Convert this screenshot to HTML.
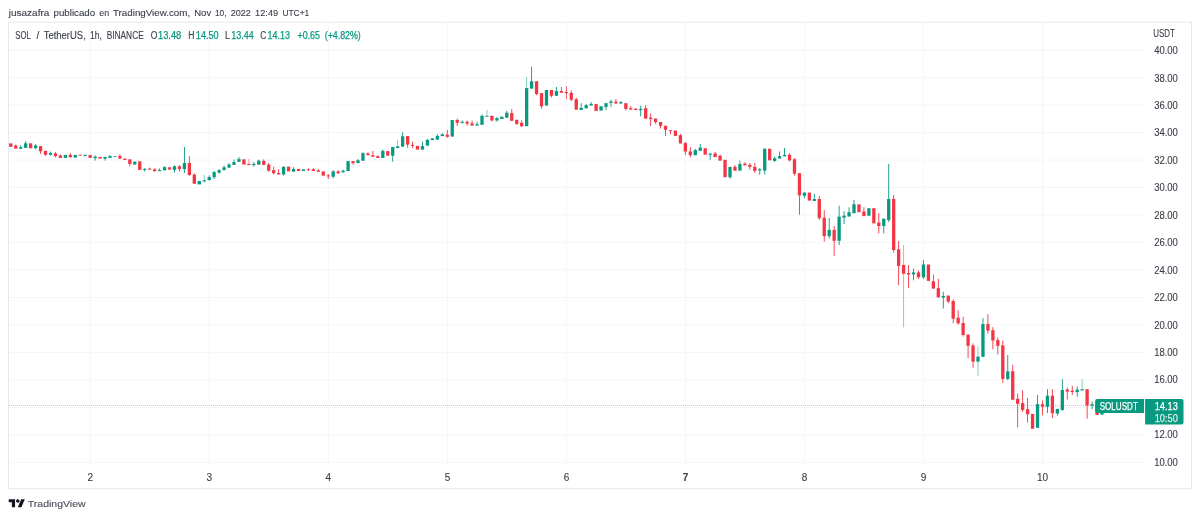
<!DOCTYPE html><html><head><meta charset="utf-8"><title>SOLUSDT</title>
<style>html,body{margin:0;padding:0;background:#fff;}svg{display:block;will-change:transform;font-family:"Liberation Sans",sans-serif;}</style></head><body>
<svg width="1200" height="518" viewBox="0 0 1200 518">
<rect x="8.5" y="461.89" width="1136.5" height="1" fill="#f4f6fb"/>
<rect x="8.5" y="434.4" width="1136.5" height="1" fill="#f4f6fb"/>
<rect x="8.5" y="406.92" width="1136.5" height="1" fill="#f4f6fb"/>
<rect x="8.5" y="379.43" width="1136.5" height="1" fill="#f4f6fb"/>
<rect x="8.5" y="351.95" width="1136.5" height="1" fill="#f4f6fb"/>
<rect x="8.5" y="324.46" width="1136.5" height="1" fill="#f4f6fb"/>
<rect x="8.5" y="296.97" width="1136.5" height="1" fill="#f4f6fb"/>
<rect x="8.5" y="269.49" width="1136.5" height="1" fill="#f4f6fb"/>
<rect x="8.5" y="242" width="1136.5" height="1" fill="#f4f6fb"/>
<rect x="8.5" y="214.52" width="1136.5" height="1" fill="#f4f6fb"/>
<rect x="8.5" y="187.03" width="1136.5" height="1" fill="#f4f6fb"/>
<rect x="8.5" y="159.54" width="1136.5" height="1" fill="#f4f6fb"/>
<rect x="8.5" y="132.06" width="1136.5" height="1" fill="#f4f6fb"/>
<rect x="8.5" y="104.57" width="1136.5" height="1" fill="#f4f6fb"/>
<rect x="8.5" y="77.09" width="1136.5" height="1" fill="#f4f6fb"/>
<rect x="8.5" y="49.6" width="1136.5" height="1" fill="#f4f6fb"/>
<rect x="89.8" y="22.5" width="1" height="442" fill="#f4f6fb"/>
<rect x="208.84" y="22.5" width="1" height="442" fill="#f4f6fb"/>
<rect x="327.88" y="22.5" width="1" height="442" fill="#f4f6fb"/>
<rect x="446.92" y="22.5" width="1" height="442" fill="#f4f6fb"/>
<rect x="565.96" y="22.5" width="1" height="442" fill="#f4f6fb"/>
<rect x="685" y="22.5" width="1" height="442" fill="#f4f6fb"/>
<rect x="804.04" y="22.5" width="1" height="442" fill="#f4f6fb"/>
<rect x="923.08" y="22.5" width="1" height="442" fill="#f4f6fb"/>
<rect x="1042.12" y="22.5" width="1" height="442" fill="#f4f6fb"/>
<rect x="8.5" y="22.2" width="1183" height="466.6" fill="none" stroke="#e4e7ee" stroke-width="1"/>
<line x1="9" y1="405.7" x2="1145" y2="405.7" stroke="#089981" stroke-width="1.1" stroke-dasharray="1 1" opacity="0.36" shape-rendering="crispEdges"/>
<rect x="9.15" y="143.4" width="3.3" height="3.5" fill="#f23645"/>
<rect x="15.31" y="144.4" width="0.9" height="4.2" fill="#f23645"/>
<rect x="14.11" y="145.6" width="3.3" height="3" fill="#f23645"/>
<rect x="20.27" y="145.1" width="0.9" height="3.7" fill="#089981"/>
<rect x="19.07" y="147.3" width="3.3" height="1.5" fill="#089981"/>
<rect x="25.23" y="141.1" width="0.9" height="6.8" fill="#089981"/>
<rect x="24.03" y="143.3" width="3.3" height="4.6" fill="#089981"/>
<rect x="28.99" y="143.3" width="3.3" height="5" fill="#f23645"/>
<rect x="35.15" y="144.1" width="0.9" height="5.3" fill="#089981"/>
<rect x="33.95" y="145.4" width="3.3" height="2.7" fill="#089981"/>
<rect x="40.11" y="146.1" width="0.9" height="7.8" fill="#f23645"/>
<rect x="38.91" y="146.1" width="3.3" height="5.2" fill="#f23645"/>
<rect x="45.07" y="150.8" width="0.9" height="5.1" fill="#f23645"/>
<rect x="43.87" y="150.8" width="3.3" height="4" fill="#f23645"/>
<rect x="50.03" y="151.6" width="0.9" height="3.8" fill="#089981"/>
<rect x="48.83" y="153.1" width="3.3" height="1.7" fill="#089981"/>
<rect x="54.99" y="152.1" width="0.9" height="5.2" fill="#f23645"/>
<rect x="53.79" y="153.4" width="3.3" height="2.7" fill="#f23645"/>
<rect x="59.95" y="154.6" width="0.9" height="3.3" fill="#f23645"/>
<rect x="58.75" y="155.4" width="3.3" height="2.5" fill="#f23645"/>
<rect x="63.71" y="154.9" width="3.3" height="3" fill="#089981"/>
<rect x="69.87" y="153.1" width="0.9" height="4.2" fill="#f23645"/>
<rect x="68.67" y="154.9" width="3.3" height="2.4" fill="#f23645"/>
<rect x="73.63" y="154.9" width="3.3" height="2.7" fill="#089981"/>
<rect x="78.59" y="154.6" width="3.3" height="1" fill="#f23645"/>
<rect x="83.55" y="154.8" width="3.3" height="1.3" fill="#089981"/>
<rect x="88.51" y="154.9" width="3.3" height="3" fill="#f23645"/>
<rect x="94.67" y="155.4" width="0.9" height="5.2" fill="#089981"/>
<rect x="93.47" y="156.6" width="3.3" height="1.5" fill="#089981"/>
<rect x="98.43" y="156.9" width="3.3" height="1.7" fill="#f23645"/>
<rect x="104.59" y="156.9" width="0.9" height="3.7" fill="#089981"/>
<rect x="103.39" y="156.9" width="3.3" height="1.7" fill="#089981"/>
<rect x="109.55" y="155.1" width="0.9" height="2.8" fill="#089981"/>
<rect x="108.35" y="156.1" width="3.3" height="1.8" fill="#089981"/>
<rect x="113.31" y="156.1" width="3.3" height="0.8" fill="#089981"/>
<rect x="119.47" y="154.3" width="0.9" height="4.3" fill="#f23645"/>
<rect x="118.27" y="155.9" width="3.3" height="2.7" fill="#f23645"/>
<rect x="123.23" y="158.6" width="3.3" height="1.4" fill="#f23645"/>
<rect x="129.39" y="159.4" width="0.9" height="7" fill="#f23645"/>
<rect x="128.19" y="159.4" width="3.3" height="4.5" fill="#f23645"/>
<rect x="133.15" y="161.6" width="3.3" height="3" fill="#089981"/>
<rect x="138.11" y="161.3" width="3.3" height="8.6" fill="#f23645"/>
<rect x="144.27" y="168.1" width="0.9" height="3.5" fill="#089981"/>
<rect x="143.07" y="168.9" width="3.3" height="1" fill="#089981"/>
<rect x="149.23" y="167.6" width="0.9" height="2" fill="#f23645"/>
<rect x="148.03" y="168.6" width="3.3" height="1" fill="#f23645"/>
<rect x="154.19" y="168.4" width="0.9" height="3.2" fill="#f23645"/>
<rect x="152.99" y="169.3" width="3.3" height="1.8" fill="#f23645"/>
<rect x="159.15" y="168.4" width="0.9" height="2.7" fill="#089981"/>
<rect x="157.95" y="170.1" width="3.3" height="1" fill="#089981"/>
<rect x="164.11" y="166.3" width="0.9" height="4" fill="#089981"/>
<rect x="162.91" y="167.1" width="3.3" height="3.2" fill="#089981"/>
<rect x="167.87" y="167.3" width="3.3" height="2.3" fill="#f23645"/>
<rect x="174.03" y="165.3" width="0.9" height="7.3" fill="#089981"/>
<rect x="172.83" y="166.3" width="3.3" height="3.6" fill="#089981"/>
<rect x="178.99" y="165.1" width="0.9" height="6.5" fill="#f23645"/>
<rect x="177.79" y="166.3" width="3.3" height="2.8" fill="#f23645"/>
<rect x="183.95" y="147" width="0.9" height="26.1" fill="#089981"/>
<rect x="182.75" y="163.1" width="3.3" height="6" fill="#089981"/>
<rect x="188.91" y="156.1" width="0.9" height="19.5" fill="#f23645"/>
<rect x="187.71" y="163.1" width="3.3" height="12" fill="#f23645"/>
<rect x="193.87" y="173.3" width="0.9" height="10.4" fill="#f23645"/>
<rect x="192.67" y="174.6" width="3.3" height="9.1" fill="#f23645"/>
<rect x="197.63" y="181" width="3.3" height="3.4" fill="#089981"/>
<rect x="203.79" y="174.9" width="0.9" height="7.8" fill="#089981" opacity="0.55"/>
<rect x="202.59" y="180.2" width="3.3" height="1.2" fill="#089981"/>
<rect x="208.75" y="175.3" width="0.9" height="4.9" fill="#089981"/>
<rect x="207.55" y="177" width="3.3" height="3.2" fill="#089981"/>
<rect x="213.71" y="170.9" width="0.9" height="8.1" fill="#089981"/>
<rect x="212.51" y="172.1" width="3.3" height="5.1" fill="#089981"/>
<rect x="218.67" y="169.1" width="0.9" height="4.5" fill="#089981"/>
<rect x="217.47" y="170.1" width="3.3" height="2.5" fill="#089981"/>
<rect x="223.63" y="165.6" width="0.9" height="4.5" fill="#089981"/>
<rect x="222.43" y="167.3" width="3.3" height="2.8" fill="#089981"/>
<rect x="228.59" y="163.1" width="0.9" height="4.5" fill="#089981"/>
<rect x="227.39" y="164.6" width="3.3" height="3" fill="#089981"/>
<rect x="233.55" y="159.6" width="0.9" height="5.3" fill="#089981"/>
<rect x="232.35" y="162.1" width="3.3" height="2.8" fill="#089981"/>
<rect x="238.51" y="157.1" width="0.9" height="4.7" fill="#089981"/>
<rect x="237.31" y="159.1" width="3.3" height="2.7" fill="#089981"/>
<rect x="242.27" y="159.3" width="3.3" height="5.3" fill="#f23645"/>
<rect x="248.43" y="158.9" width="0.9" height="6.2" fill="#f23645" opacity="0.55"/>
<rect x="247.23" y="163.9" width="3.3" height="1.2" fill="#f23645"/>
<rect x="253.39" y="162.1" width="0.9" height="4.5" fill="#089981"/>
<rect x="252.19" y="163.9" width="3.3" height="1.2" fill="#089981"/>
<rect x="258.35" y="159.6" width="0.9" height="5" fill="#089981"/>
<rect x="257.15" y="160.6" width="3.3" height="4" fill="#089981"/>
<rect x="263.31" y="159.3" width="0.9" height="5.6" fill="#f23645"/>
<rect x="262.11" y="160.9" width="3.3" height="4" fill="#f23645"/>
<rect x="268.27" y="162.9" width="0.9" height="8.8" fill="#f23645"/>
<rect x="267.07" y="164.6" width="3.3" height="6.1" fill="#f23645"/>
<rect x="273.23" y="166.9" width="0.9" height="7.5" fill="#f23645"/>
<rect x="272.03" y="170.2" width="3.3" height="3" fill="#f23645"/>
<rect x="278.19" y="169.3" width="0.9" height="5.1" fill="#f23645"/>
<rect x="276.99" y="173" width="3.3" height="1.4" fill="#f23645"/>
<rect x="283.15" y="166.1" width="0.9" height="9.6" fill="#089981"/>
<rect x="281.95" y="166.9" width="3.3" height="7.5" fill="#089981"/>
<rect x="286.91" y="166.6" width="3.3" height="4.8" fill="#f23645"/>
<rect x="293.07" y="167.3" width="0.9" height="4.4" fill="#089981"/>
<rect x="291.87" y="168.9" width="3.3" height="2.8" fill="#089981"/>
<rect x="296.83" y="168.9" width="3.3" height="2.1" fill="#f23645"/>
<rect x="301.79" y="169.3" width="3.3" height="1.7" fill="#089981"/>
<rect x="307.95" y="168.3" width="0.9" height="2.7" fill="#f23645"/>
<rect x="306.75" y="169.3" width="3.3" height="0.8" fill="#f23645"/>
<rect x="312.91" y="168.1" width="0.9" height="2.9" fill="#f23645"/>
<rect x="311.71" y="169.3" width="3.3" height="1.7" fill="#f23645"/>
<rect x="317.87" y="169.1" width="0.9" height="2.6" fill="#f23645"/>
<rect x="316.67" y="170.4" width="3.3" height="1.3" fill="#f23645"/>
<rect x="321.63" y="171.4" width="3.3" height="4.3" fill="#f23645"/>
<rect x="327.79" y="174.2" width="0.9" height="5" fill="#f23645"/>
<rect x="326.59" y="175.4" width="3.3" height="1" fill="#f23645"/>
<rect x="332.75" y="170.2" width="0.9" height="8.2" fill="#089981"/>
<rect x="331.55" y="171.4" width="3.3" height="5.3" fill="#089981"/>
<rect x="337.71" y="170.2" width="0.9" height="3.8" fill="#f23645"/>
<rect x="336.51" y="171.4" width="3.3" height="1.8" fill="#f23645"/>
<rect x="342.67" y="169.7" width="0.9" height="2.7" fill="#089981"/>
<rect x="341.47" y="170.7" width="3.3" height="1.7" fill="#089981"/>
<rect x="346.43" y="161.1" width="3.3" height="9.9" fill="#089981"/>
<rect x="352.59" y="161.1" width="0.9" height="3.5" fill="#f23645"/>
<rect x="351.39" y="161.1" width="3.3" height="2" fill="#f23645"/>
<rect x="357.55" y="159.1" width="0.9" height="4" fill="#089981"/>
<rect x="356.35" y="160.3" width="3.3" height="2.8" fill="#089981"/>
<rect x="362.51" y="152.2" width="0.9" height="8.5" fill="#089981"/>
<rect x="361.31" y="153.2" width="3.3" height="7.5" fill="#089981"/>
<rect x="367.47" y="152.4" width="0.9" height="2.8" fill="#f23645"/>
<rect x="366.27" y="153.4" width="3.3" height="1.8" fill="#f23645"/>
<rect x="372.43" y="150.9" width="0.9" height="5.8" fill="#f23645"/>
<rect x="371.23" y="155.2" width="3.3" height="1.5" fill="#f23645"/>
<rect x="377.39" y="155.2" width="0.9" height="2.8" fill="#f23645"/>
<rect x="376.19" y="156.2" width="3.3" height="1.8" fill="#f23645"/>
<rect x="382.35" y="149.6" width="0.9" height="8.4" fill="#089981"/>
<rect x="381.15" y="150.9" width="3.3" height="7.1" fill="#089981"/>
<rect x="386.11" y="151.1" width="3.3" height="4.6" fill="#f23645"/>
<rect x="392.27" y="147.1" width="0.9" height="14.6" fill="#089981"/>
<rect x="391.07" y="147.1" width="3.3" height="8.6" fill="#089981"/>
<rect x="397.23" y="139.6" width="0.9" height="9" fill="#089981" opacity="0.55"/>
<rect x="396.03" y="146.3" width="3.3" height="1.6" fill="#089981"/>
<rect x="402.19" y="132.3" width="0.9" height="14.3" fill="#089981"/>
<rect x="400.99" y="136.3" width="3.3" height="10.3" fill="#089981"/>
<rect x="407.15" y="136.1" width="0.9" height="11.5" fill="#f23645"/>
<rect x="405.95" y="136.1" width="3.3" height="8.5" fill="#f23645"/>
<rect x="412.11" y="141.6" width="0.9" height="6.5" fill="#f23645"/>
<rect x="410.91" y="144.9" width="3.3" height="1" fill="#f23645"/>
<rect x="415.87" y="145.9" width="3.3" height="3.7" fill="#f23645"/>
<rect x="422.03" y="141.6" width="0.9" height="8" fill="#089981"/>
<rect x="420.83" y="146.1" width="3.3" height="3.5" fill="#089981"/>
<rect x="426.99" y="139.1" width="0.9" height="6.5" fill="#089981"/>
<rect x="425.79" y="139.9" width="3.3" height="5.7" fill="#089981"/>
<rect x="430.75" y="138.3" width="3.3" height="1.8" fill="#089981"/>
<rect x="436.91" y="134.1" width="0.9" height="5.5" fill="#089981"/>
<rect x="435.71" y="135.9" width="3.3" height="3.7" fill="#089981"/>
<rect x="441.87" y="133.3" width="0.9" height="2.8" fill="#089981"/>
<rect x="440.67" y="134.3" width="3.3" height="1.8" fill="#089981"/>
<rect x="446.83" y="129.9" width="0.9" height="7.7" fill="#f23645"/>
<rect x="445.63" y="134.6" width="3.3" height="2.3" fill="#f23645"/>
<rect x="450.59" y="120" width="3.3" height="16.6" fill="#089981"/>
<rect x="456.75" y="118.5" width="0.9" height="7.5" fill="#f23645"/>
<rect x="455.55" y="120" width="3.3" height="2.8" fill="#f23645"/>
<rect x="461.71" y="120.5" width="0.9" height="3" fill="#089981"/>
<rect x="460.51" y="121.8" width="3.3" height="1" fill="#089981"/>
<rect x="466.67" y="120.5" width="0.9" height="5.3" fill="#f23645"/>
<rect x="465.47" y="121.8" width="3.3" height="1.7" fill="#f23645"/>
<rect x="471.63" y="120.5" width="0.9" height="5" fill="#f23645"/>
<rect x="470.43" y="123.3" width="3.3" height="2.2" fill="#f23645"/>
<rect x="476.59" y="121.9" width="0.9" height="3.6" fill="#089981"/>
<rect x="475.39" y="124.2" width="3.3" height="1.3" fill="#089981"/>
<rect x="481.55" y="114.4" width="0.9" height="10.4" fill="#089981"/>
<rect x="480.35" y="115.8" width="3.3" height="9" fill="#089981"/>
<rect x="486.51" y="110" width="0.9" height="6.7" fill="#089981" opacity="0.55"/>
<rect x="485.31" y="115.8" width="3.3" height="0.9" fill="#089981"/>
<rect x="491.47" y="115.8" width="0.9" height="5.7" fill="#f23645"/>
<rect x="490.27" y="115.8" width="3.3" height="4.6" fill="#f23645"/>
<rect x="496.43" y="117.1" width="0.9" height="4.4" fill="#089981"/>
<rect x="495.23" y="118.1" width="3.3" height="2.3" fill="#089981"/>
<rect x="500.19" y="116.7" width="3.3" height="2.3" fill="#089981"/>
<rect x="506.35" y="110.9" width="0.9" height="6.8" fill="#089981"/>
<rect x="505.15" y="112.7" width="3.3" height="5" fill="#089981"/>
<rect x="511.31" y="109" width="0.9" height="11.8" fill="#f23645"/>
<rect x="510.11" y="113.1" width="3.3" height="7.7" fill="#f23645"/>
<rect x="516.27" y="119.8" width="0.9" height="5" fill="#f23645"/>
<rect x="515.07" y="119.8" width="3.3" height="4.1" fill="#f23645"/>
<rect x="521.23" y="120.4" width="0.9" height="6.5" fill="#f23645"/>
<rect x="520.03" y="122.8" width="3.3" height="3.4" fill="#f23645"/>
<rect x="526.19" y="76.9" width="0.9" height="49.3" fill="#089981" opacity="0.55"/>
<rect x="524.99" y="88.1" width="3.3" height="38.1" fill="#089981"/>
<rect x="531.15" y="66.7" width="0.9" height="21.9" fill="#089981"/>
<rect x="529.95" y="81.3" width="3.3" height="7.3" fill="#089981"/>
<rect x="536.11" y="81.3" width="0.9" height="13.8" fill="#f23645"/>
<rect x="534.91" y="81.3" width="3.3" height="12.7" fill="#f23645"/>
<rect x="541.07" y="93.1" width="0.9" height="15.5" fill="#f23645"/>
<rect x="539.87" y="93.1" width="3.3" height="13.2" fill="#f23645"/>
<rect x="544.83" y="90" width="3.3" height="15.6" fill="#089981"/>
<rect x="550.99" y="90" width="0.9" height="7.4" fill="#f23645"/>
<rect x="549.79" y="90" width="3.3" height="5.8" fill="#f23645"/>
<rect x="555.95" y="87" width="0.9" height="8.8" fill="#089981"/>
<rect x="554.75" y="91.1" width="3.3" height="4.7" fill="#089981"/>
<rect x="560.91" y="87" width="0.9" height="5.8" fill="#f23645"/>
<rect x="559.71" y="91.1" width="3.3" height="1.7" fill="#f23645"/>
<rect x="565.87" y="86.3" width="0.9" height="12.5" fill="#f23645"/>
<rect x="564.67" y="92" width="3.3" height="1.1" fill="#f23645"/>
<rect x="570.83" y="90.4" width="0.9" height="10.8" fill="#f23645"/>
<rect x="569.63" y="92.8" width="3.3" height="7" fill="#f23645"/>
<rect x="575.79" y="97.8" width="0.9" height="11.8" fill="#f23645"/>
<rect x="574.59" y="99.2" width="3.3" height="10.4" fill="#f23645"/>
<rect x="580.75" y="103.2" width="0.9" height="6.8" fill="#089981"/>
<rect x="579.55" y="107.9" width="3.3" height="2.1" fill="#089981"/>
<rect x="585.71" y="103.9" width="0.9" height="4.4" fill="#089981"/>
<rect x="584.51" y="105.2" width="3.3" height="3.1" fill="#089981"/>
<rect x="590.67" y="102.1" width="0.9" height="3.4" fill="#089981"/>
<rect x="589.47" y="103.9" width="3.3" height="1.6" fill="#089981"/>
<rect x="594.43" y="103.9" width="3.3" height="7" fill="#f23645"/>
<rect x="599.39" y="106.2" width="3.3" height="4.4" fill="#089981"/>
<rect x="605.55" y="103.2" width="0.9" height="7" fill="#089981"/>
<rect x="604.35" y="103.2" width="3.3" height="3.7" fill="#089981"/>
<rect x="610.51" y="99.8" width="0.9" height="7.1" fill="#089981"/>
<rect x="609.31" y="101.5" width="3.3" height="1.3" fill="#089981"/>
<rect x="615.47" y="99" width="0.9" height="4.5" fill="#f23645"/>
<rect x="614.27" y="101.7" width="3.3" height="1.8" fill="#f23645"/>
<rect x="620.43" y="101.2" width="0.9" height="2.3" fill="#089981"/>
<rect x="619.23" y="102.1" width="3.3" height="1.4" fill="#089981"/>
<rect x="625.39" y="103.2" width="0.9" height="7.4" fill="#f23645"/>
<rect x="624.19" y="103.2" width="3.3" height="5.7" fill="#f23645"/>
<rect x="630.35" y="105.9" width="0.9" height="3.7" fill="#f23645"/>
<rect x="629.15" y="108.2" width="3.3" height="1.4" fill="#f23645"/>
<rect x="635.31" y="107.9" width="0.9" height="2.1" fill="#f23645"/>
<rect x="634.11" y="108.9" width="3.3" height="1.1" fill="#f23645"/>
<rect x="640.27" y="105.5" width="0.9" height="10.8" fill="#089981"/>
<rect x="639.07" y="108.9" width="3.3" height="1.3" fill="#089981"/>
<rect x="645.23" y="105.2" width="0.9" height="13.4" fill="#f23645"/>
<rect x="644.03" y="108.2" width="3.3" height="10.4" fill="#f23645"/>
<rect x="650.19" y="113.4" width="0.9" height="12.7" fill="#f23645"/>
<rect x="648.99" y="117.7" width="3.3" height="1.3" fill="#f23645"/>
<rect x="655.15" y="118.6" width="0.9" height="5.2" fill="#f23645"/>
<rect x="653.95" y="118.6" width="3.3" height="3.4" fill="#f23645"/>
<rect x="660.11" y="122" width="0.9" height="6.5" fill="#f23645"/>
<rect x="658.91" y="122" width="3.3" height="3.8" fill="#f23645"/>
<rect x="665.07" y="125.8" width="0.9" height="10.1" fill="#f23645"/>
<rect x="663.87" y="125.8" width="3.3" height="4" fill="#f23645"/>
<rect x="670.03" y="130.2" width="0.9" height="4.1" fill="#f23645"/>
<rect x="668.83" y="130.2" width="3.3" height="1" fill="#f23645"/>
<rect x="673.79" y="130.5" width="3.3" height="5.4" fill="#f23645"/>
<rect x="679.95" y="133.9" width="0.9" height="9.5" fill="#f23645"/>
<rect x="678.75" y="135.2" width="3.3" height="8.2" fill="#f23645"/>
<rect x="684.91" y="142" width="0.9" height="13.2" fill="#f23645"/>
<rect x="683.71" y="143.1" width="3.3" height="8.4" fill="#f23645"/>
<rect x="689.87" y="147.1" width="0.9" height="10.4" fill="#f23645"/>
<rect x="688.67" y="151.5" width="3.3" height="3.7" fill="#f23645"/>
<rect x="694.83" y="148.8" width="0.9" height="6.4" fill="#089981"/>
<rect x="693.63" y="150.1" width="3.3" height="5.1" fill="#089981"/>
<rect x="699.79" y="144" width="0.9" height="6.8" fill="#089981"/>
<rect x="698.59" y="147.6" width="3.3" height="3.2" fill="#089981"/>
<rect x="703.55" y="148.2" width="3.3" height="6.5" fill="#f23645"/>
<rect x="709.71" y="153.5" width="0.9" height="6.3" fill="#089981"/>
<rect x="708.51" y="153.5" width="3.3" height="1.2" fill="#089981"/>
<rect x="714.67" y="151.9" width="0.9" height="5.2" fill="#f23645"/>
<rect x="713.47" y="153.5" width="3.3" height="3.6" fill="#f23645"/>
<rect x="719.63" y="154.6" width="0.9" height="6" fill="#f23645"/>
<rect x="718.43" y="155.8" width="3.3" height="4.8" fill="#f23645"/>
<rect x="723.39" y="159.8" width="3.3" height="17.4" fill="#f23645"/>
<rect x="729.55" y="166.9" width="0.9" height="11.9" fill="#089981"/>
<rect x="728.35" y="166.9" width="3.3" height="10.3" fill="#089981"/>
<rect x="734.51" y="165" width="0.9" height="5.6" fill="#f23645"/>
<rect x="733.31" y="166.9" width="3.3" height="3.7" fill="#f23645"/>
<rect x="739.47" y="160.6" width="0.9" height="10" fill="#089981"/>
<rect x="738.27" y="164.1" width="3.3" height="6.5" fill="#089981"/>
<rect x="744.43" y="162.2" width="0.9" height="3.1" fill="#f23645"/>
<rect x="743.23" y="163.7" width="3.3" height="1.6" fill="#f23645"/>
<rect x="749.39" y="163" width="0.9" height="6.8" fill="#f23645"/>
<rect x="748.19" y="165" width="3.3" height="1.9" fill="#f23645"/>
<rect x="754.35" y="163" width="0.9" height="9.9" fill="#f23645"/>
<rect x="753.15" y="166.9" width="3.3" height="4" fill="#f23645"/>
<rect x="759.31" y="168.2" width="0.9" height="6.6" fill="#089981"/>
<rect x="758.11" y="169.3" width="3.3" height="1.1" fill="#089981"/>
<rect x="764.27" y="148.7" width="0.9" height="25.8" fill="#089981"/>
<rect x="763.07" y="148.7" width="3.3" height="21.9" fill="#089981"/>
<rect x="768.03" y="148.7" width="3.3" height="11.6" fill="#f23645"/>
<rect x="774.19" y="156.6" width="0.9" height="5.2" fill="#089981"/>
<rect x="772.99" y="158.2" width="3.3" height="2.7" fill="#089981"/>
<rect x="779.15" y="151.4" width="0.9" height="7.1" fill="#089981"/>
<rect x="777.95" y="156.1" width="3.3" height="2.4" fill="#089981"/>
<rect x="784.11" y="147.9" width="0.9" height="8.4" fill="#089981"/>
<rect x="782.91" y="155" width="3.3" height="1.3" fill="#089981"/>
<rect x="789.07" y="153.4" width="0.9" height="8" fill="#f23645"/>
<rect x="787.87" y="154.7" width="3.3" height="5.6" fill="#f23645"/>
<rect x="794.03" y="158.2" width="0.9" height="17.4" fill="#f23645"/>
<rect x="792.83" y="159.3" width="3.3" height="14.4" fill="#f23645"/>
<rect x="798.99" y="173.2" width="0.9" height="41.5" fill="#f23645"/>
<rect x="797.79" y="173.2" width="3.3" height="22.2" fill="#f23645"/>
<rect x="803.95" y="192.6" width="0.9" height="5.7" fill="#089981"/>
<rect x="802.75" y="192.6" width="3.3" height="3.1" fill="#089981"/>
<rect x="807.71" y="192.6" width="3.3" height="8" fill="#f23645"/>
<rect x="813.87" y="193.9" width="0.9" height="7.1" fill="#089981"/>
<rect x="812.67" y="199" width="3.3" height="2" fill="#089981"/>
<rect x="818.83" y="195.8" width="0.9" height="24.3" fill="#f23645"/>
<rect x="817.63" y="199" width="3.3" height="19.1" fill="#f23645"/>
<rect x="823.79" y="210.2" width="0.9" height="31.5" fill="#f23645"/>
<rect x="822.59" y="217.7" width="3.3" height="18.5" fill="#f23645"/>
<rect x="828.75" y="218.1" width="0.9" height="20.7" fill="#089981"/>
<rect x="827.55" y="229.9" width="3.3" height="6.3" fill="#089981"/>
<rect x="833.71" y="226" width="0.9" height="29.9" fill="#f23645"/>
<rect x="832.51" y="229.9" width="3.3" height="10.9" fill="#f23645"/>
<rect x="838.67" y="205.7" width="0.9" height="39.4" fill="#089981"/>
<rect x="837.47" y="216.7" width="3.3" height="24.1" fill="#089981"/>
<rect x="843.63" y="211.2" width="0.9" height="12.8" fill="#089981"/>
<rect x="842.43" y="215.7" width="3.3" height="2" fill="#089981"/>
<rect x="848.59" y="207.3" width="0.9" height="9.2" fill="#089981"/>
<rect x="847.39" y="212.2" width="3.3" height="4.3" fill="#089981"/>
<rect x="853.55" y="199.8" width="0.9" height="13.4" fill="#089981"/>
<rect x="852.35" y="204.3" width="3.3" height="8.9" fill="#089981"/>
<rect x="857.31" y="204.3" width="3.3" height="7.9" fill="#f23645"/>
<rect x="863.47" y="207.3" width="0.9" height="8.8" fill="#f23645"/>
<rect x="862.27" y="211.6" width="3.3" height="4.5" fill="#f23645"/>
<rect x="867.23" y="208.2" width="3.3" height="7.5" fill="#089981"/>
<rect x="872.19" y="208.2" width="3.3" height="15.2" fill="#f23645"/>
<rect x="878.35" y="213.2" width="0.9" height="20.3" fill="#f23645"/>
<rect x="877.15" y="222.6" width="3.3" height="3.4" fill="#f23645"/>
<rect x="883.31" y="218.7" width="0.9" height="14.8" fill="#089981"/>
<rect x="882.11" y="218.7" width="3.3" height="7.3" fill="#089981"/>
<rect x="888.27" y="163.9" width="0.9" height="58.1" fill="#089981"/>
<rect x="887.07" y="199" width="3.3" height="21.1" fill="#089981"/>
<rect x="893.23" y="195" width="0.9" height="57.6" fill="#f23645"/>
<rect x="892.03" y="199" width="3.3" height="51" fill="#f23645"/>
<rect x="898.19" y="240.9" width="0.9" height="44.3" fill="#f23645"/>
<rect x="896.99" y="249.3" width="3.3" height="16.6" fill="#f23645"/>
<rect x="903.15" y="244.8" width="0.9" height="82.4" fill="#f23645" opacity="0.55"/>
<rect x="901.95" y="264.9" width="3.3" height="8.9" fill="#f23645"/>
<rect x="908.11" y="265.1" width="0.9" height="23.1" fill="#f23645"/>
<rect x="906.91" y="273" width="3.3" height="1.4" fill="#f23645"/>
<rect x="913.07" y="268.5" width="0.9" height="11.8" fill="#089981"/>
<rect x="911.87" y="272.4" width="3.3" height="2" fill="#089981"/>
<rect x="918.03" y="270.4" width="0.9" height="8.5" fill="#f23645"/>
<rect x="916.83" y="272.4" width="3.3" height="4.9" fill="#f23645"/>
<rect x="922.99" y="260" width="0.9" height="18.9" fill="#089981"/>
<rect x="921.79" y="264.5" width="3.3" height="12.8" fill="#089981"/>
<rect x="926.75" y="264.5" width="3.3" height="16.4" fill="#f23645"/>
<rect x="932.91" y="274.4" width="0.9" height="14.2" fill="#f23645"/>
<rect x="931.71" y="281.3" width="3.3" height="7.3" fill="#f23645"/>
<rect x="937.87" y="278.9" width="0.9" height="18.5" fill="#f23645"/>
<rect x="936.67" y="288.2" width="3.3" height="9.2" fill="#f23645"/>
<rect x="942.83" y="291.7" width="0.9" height="16.8" fill="#089981"/>
<rect x="941.63" y="296" width="3.3" height="1.6" fill="#089981"/>
<rect x="947.79" y="295.6" width="0.9" height="7.7" fill="#f23645"/>
<rect x="946.59" y="295.6" width="3.3" height="6" fill="#f23645"/>
<rect x="952.75" y="299.4" width="0.9" height="23.9" fill="#f23645"/>
<rect x="951.55" y="301" width="3.3" height="17.7" fill="#f23645"/>
<rect x="957.71" y="310.3" width="0.9" height="14.4" fill="#f23645"/>
<rect x="956.51" y="317.7" width="3.3" height="5.6" fill="#f23645"/>
<rect x="962.67" y="316.8" width="0.9" height="19.7" fill="#f23645"/>
<rect x="961.47" y="323" width="3.3" height="12" fill="#f23645"/>
<rect x="967.63" y="334.6" width="0.9" height="23.6" fill="#f23645"/>
<rect x="966.43" y="334.6" width="3.3" height="11.2" fill="#f23645"/>
<rect x="972.59" y="343.4" width="0.9" height="24.3" fill="#f23645"/>
<rect x="971.39" y="345.4" width="3.3" height="16.3" fill="#f23645"/>
<rect x="977.55" y="346.4" width="0.9" height="29.5" fill="#089981" opacity="0.55"/>
<rect x="976.35" y="356.6" width="3.3" height="5.1" fill="#089981"/>
<rect x="982.51" y="318.2" width="0.9" height="38.6" fill="#089981"/>
<rect x="981.31" y="324.1" width="3.3" height="32.7" fill="#089981"/>
<rect x="987.47" y="314.3" width="0.9" height="19.3" fill="#f23645"/>
<rect x="986.27" y="324.1" width="3.3" height="6.5" fill="#f23645"/>
<rect x="992.43" y="327.1" width="0.9" height="22.2" fill="#f23645"/>
<rect x="991.23" y="330.2" width="3.3" height="10.3" fill="#f23645"/>
<rect x="997.39" y="337.5" width="0.9" height="16.8" fill="#f23645"/>
<rect x="996.19" y="340.1" width="3.3" height="5.7" fill="#f23645"/>
<rect x="1002.35" y="340.5" width="0.9" height="42.3" fill="#f23645"/>
<rect x="1001.15" y="345.4" width="3.3" height="33.5" fill="#f23645"/>
<rect x="1007.31" y="354.9" width="0.9" height="25.3" fill="#089981"/>
<rect x="1006.11" y="371.4" width="3.3" height="7.5" fill="#089981"/>
<rect x="1012.27" y="364.7" width="0.9" height="35" fill="#f23645"/>
<rect x="1011.07" y="371.2" width="3.3" height="28.5" fill="#f23645"/>
<rect x="1017.23" y="393.6" width="0.9" height="33.8" fill="#f23645"/>
<rect x="1016.03" y="398.8" width="3.3" height="5" fill="#f23645"/>
<rect x="1022.19" y="390.3" width="0.9" height="21.6" fill="#f23645"/>
<rect x="1020.99" y="403.1" width="3.3" height="6.8" fill="#f23645"/>
<rect x="1027.15" y="397.7" width="0.9" height="25" fill="#f23645"/>
<rect x="1025.95" y="409.2" width="3.3" height="5.1" fill="#f23645"/>
<rect x="1030.91" y="413.9" width="3.3" height="14.9" fill="#f23645"/>
<rect x="1037.07" y="395" width="0.9" height="32.8" fill="#089981"/>
<rect x="1035.87" y="404.2" width="3.3" height="23.6" fill="#089981"/>
<rect x="1042.03" y="400.4" width="0.9" height="14.9" fill="#f23645"/>
<rect x="1040.83" y="404.2" width="3.3" height="2.6" fill="#f23645"/>
<rect x="1046.99" y="389.2" width="0.9" height="23.8" fill="#089981"/>
<rect x="1045.79" y="395.7" width="3.3" height="11.1" fill="#089981"/>
<rect x="1051.95" y="389.2" width="0.9" height="28.8" fill="#f23645"/>
<rect x="1050.75" y="395.7" width="3.3" height="17.5" fill="#f23645"/>
<rect x="1056.91" y="408.9" width="0.9" height="6.8" fill="#089981"/>
<rect x="1055.71" y="408.9" width="3.3" height="4.6" fill="#089981"/>
<rect x="1061.87" y="379.2" width="0.9" height="31.6" fill="#089981"/>
<rect x="1060.67" y="390" width="3.3" height="19.9" fill="#089981"/>
<rect x="1066.83" y="387.6" width="0.9" height="11.9" fill="#f23645"/>
<rect x="1065.63" y="389.6" width="3.3" height="2" fill="#f23645"/>
<rect x="1071.79" y="385.9" width="0.9" height="9.1" fill="#f23645"/>
<rect x="1070.59" y="390.7" width="3.3" height="1.3" fill="#f23645"/>
<rect x="1076.75" y="386.2" width="0.9" height="10.6" fill="#089981"/>
<rect x="1075.55" y="389.6" width="3.3" height="2.4" fill="#089981"/>
<rect x="1081.71" y="379.2" width="0.9" height="11.3" fill="#089981" opacity="0.55"/>
<rect x="1080.51" y="389.3" width="3.3" height="1.2" fill="#089981"/>
<rect x="1086.67" y="389.2" width="0.9" height="29.5" fill="#f23645"/>
<rect x="1085.47" y="389.2" width="3.3" height="16.4" fill="#f23645"/>
<rect x="1091.63" y="401.5" width="0.9" height="7.9" fill="#089981"/>
<rect x="1090.43" y="404.3" width="3.3" height="1.5" fill="#089981"/>
<rect x="1095.39" y="405" width="3.3" height="9.9" fill="#f23645"/>
<rect x="1101.55" y="400.2" width="0.9" height="14.7" fill="#089981"/>
<rect x="1100.35" y="405.5" width="3.3" height="9" fill="#089981"/>
<g opacity="0.999">
<text x="8.8" y="16.3" font-size="9.6" fill="#3a3e49" stroke="#3a3e49" stroke-width="0.12" text-anchor="start" textLength="40.5" lengthAdjust="spacingAndGlyphs">jusazafra</text>
<text x="53.5" y="16.3" font-size="9.6" fill="#3a3e49" stroke="#3a3e49" stroke-width="0.12" text-anchor="start" textLength="41.7" lengthAdjust="spacingAndGlyphs">publicado</text>
<text x="99.2" y="16.3" font-size="9.6" fill="#3a3e49" stroke="#3a3e49" stroke-width="0.12" text-anchor="start" textLength="9.9" lengthAdjust="spacingAndGlyphs">en</text>
<text x="113" y="16.3" font-size="9.6" fill="#3a3e49" stroke="#3a3e49" stroke-width="0.12" text-anchor="start" textLength="77.1" lengthAdjust="spacingAndGlyphs">TradingView.com,</text>
<text x="194.2" y="16.3" font-size="9.6" fill="#3a3e49" stroke="#3a3e49" stroke-width="0.12" text-anchor="start" textLength="17" lengthAdjust="spacingAndGlyphs">Nov</text>
<text x="214.9" y="16.3" font-size="9.6" fill="#3a3e49" stroke="#3a3e49" stroke-width="0.12" text-anchor="start" textLength="11.6" lengthAdjust="spacingAndGlyphs">10,</text>
<text x="230.7" y="16.3" font-size="9.6" fill="#3a3e49" stroke="#3a3e49" stroke-width="0.12" text-anchor="start" textLength="20.1" lengthAdjust="spacingAndGlyphs">2022</text>
<text x="255.1" y="16.3" font-size="9.6" fill="#3a3e49" stroke="#3a3e49" stroke-width="0.12" text-anchor="start" textLength="23.1" lengthAdjust="spacingAndGlyphs">12:49</text>
<text x="282.4" y="16.3" font-size="9.6" fill="#3a3e49" stroke="#3a3e49" stroke-width="0.12" text-anchor="start" textLength="26.9" lengthAdjust="spacingAndGlyphs">UTC+1</text>
<text x="15.3" y="39" font-size="10" fill="#3a3e49" stroke="#3a3e49" stroke-width="0.12" text-anchor="start" textLength="15.5" lengthAdjust="spacingAndGlyphs">SOL</text>
<text x="37.9" y="39" font-size="10" fill="#3a3e49" stroke="#3a3e49" stroke-width="0.12" text-anchor="middle">/</text>
<text x="43.7" y="39" font-size="10" fill="#3a3e49" stroke="#3a3e49" stroke-width="0.12" text-anchor="start" textLength="42.1" lengthAdjust="spacingAndGlyphs">TetherUS,</text>
<text x="90" y="39" font-size="10" fill="#3a3e49" stroke="#3a3e49" stroke-width="0.12" text-anchor="start" textLength="12" lengthAdjust="spacingAndGlyphs">1h,</text>
<text x="106.7" y="39" font-size="10" fill="#3a3e49" stroke="#3a3e49" stroke-width="0.12" text-anchor="start" textLength="37" lengthAdjust="spacingAndGlyphs">BINANCE</text>
<text x="150.8" y="39" font-size="10" fill="#3a3e49" stroke="#3a3e49" stroke-width="0.12" text-anchor="start" textLength="6.6" lengthAdjust="spacingAndGlyphs">O</text>
<text x="158" y="39" font-size="10" fill="#089981" stroke="#089981" stroke-width="0.25" text-anchor="start" textLength="23.3" lengthAdjust="spacingAndGlyphs">13.48</text>
<text x="188.3" y="39" font-size="10" fill="#3a3e49" stroke="#3a3e49" stroke-width="0.12" text-anchor="start" textLength="6.2" lengthAdjust="spacingAndGlyphs">H</text>
<text x="195.8" y="39" font-size="10" fill="#089981" stroke="#089981" stroke-width="0.25" text-anchor="start" textLength="22.9" lengthAdjust="spacingAndGlyphs">14.50</text>
<text x="225" y="39" font-size="10" fill="#3a3e49" stroke="#3a3e49" stroke-width="0.12" text-anchor="start" textLength="5" lengthAdjust="spacingAndGlyphs">L</text>
<text x="231.3" y="39" font-size="10" fill="#089981" stroke="#089981" stroke-width="0.25" text-anchor="start" textLength="22.4" lengthAdjust="spacingAndGlyphs">13.44</text>
<text x="260.3" y="39" font-size="10" fill="#3a3e49" stroke="#3a3e49" stroke-width="0.12" text-anchor="start" textLength="6" lengthAdjust="spacingAndGlyphs">C</text>
<text x="267.5" y="39" font-size="10" fill="#089981" stroke="#089981" stroke-width="0.25" text-anchor="start" textLength="22.5" lengthAdjust="spacingAndGlyphs">14.13</text>
<text x="297.5" y="39" font-size="10" fill="#089981" stroke="#089981" stroke-width="0.25" text-anchor="start" textLength="22.5" lengthAdjust="spacingAndGlyphs">+0.65</text>
<text x="324.7" y="39" font-size="10" fill="#089981" stroke="#089981" stroke-width="0.25" text-anchor="start" textLength="36.1" lengthAdjust="spacingAndGlyphs">(+4.82%)</text>
<text x="1153.3" y="37.4" font-size="10" fill="#3a3e49" stroke="#3a3e49" stroke-width="0.12" text-anchor="start" textLength="21.6" lengthAdjust="spacingAndGlyphs">USDT</text>
<text x="1154.2" y="465.65" font-size="10" fill="#3a3e49" stroke="#3a3e49" stroke-width="0.12" text-anchor="start" textLength="23.7" lengthAdjust="spacingAndGlyphs">10.00</text>
<text x="1154.2" y="438.22" font-size="10" fill="#3a3e49" stroke="#3a3e49" stroke-width="0.12" text-anchor="start" textLength="23.7" lengthAdjust="spacingAndGlyphs">12.00</text>
<text x="1154.2" y="383.36" font-size="10" fill="#3a3e49" stroke="#3a3e49" stroke-width="0.12" text-anchor="start" textLength="23.7" lengthAdjust="spacingAndGlyphs">16.00</text>
<text x="1154.2" y="355.93" font-size="10" fill="#3a3e49" stroke="#3a3e49" stroke-width="0.12" text-anchor="start" textLength="23.7" lengthAdjust="spacingAndGlyphs">18.00</text>
<text x="1154.2" y="328.5" font-size="10" fill="#3a3e49" stroke="#3a3e49" stroke-width="0.12" text-anchor="start" textLength="23.7" lengthAdjust="spacingAndGlyphs">20.00</text>
<text x="1154.2" y="301.07" font-size="10" fill="#3a3e49" stroke="#3a3e49" stroke-width="0.12" text-anchor="start" textLength="23.7" lengthAdjust="spacingAndGlyphs">22.00</text>
<text x="1154.2" y="273.64" font-size="10" fill="#3a3e49" stroke="#3a3e49" stroke-width="0.12" text-anchor="start" textLength="23.7" lengthAdjust="spacingAndGlyphs">24.00</text>
<text x="1154.2" y="246.21" font-size="10" fill="#3a3e49" stroke="#3a3e49" stroke-width="0.12" text-anchor="start" textLength="23.7" lengthAdjust="spacingAndGlyphs">26.00</text>
<text x="1154.2" y="218.78" font-size="10" fill="#3a3e49" stroke="#3a3e49" stroke-width="0.12" text-anchor="start" textLength="23.7" lengthAdjust="spacingAndGlyphs">28.00</text>
<text x="1154.2" y="191.35" font-size="10" fill="#3a3e49" stroke="#3a3e49" stroke-width="0.12" text-anchor="start" textLength="23.7" lengthAdjust="spacingAndGlyphs">30.00</text>
<text x="1154.2" y="163.92" font-size="10" fill="#3a3e49" stroke="#3a3e49" stroke-width="0.12" text-anchor="start" textLength="23.7" lengthAdjust="spacingAndGlyphs">32.00</text>
<text x="1154.2" y="136.49" font-size="10" fill="#3a3e49" stroke="#3a3e49" stroke-width="0.12" text-anchor="start" textLength="23.7" lengthAdjust="spacingAndGlyphs">34.00</text>
<text x="1154.2" y="109.06" font-size="10" fill="#3a3e49" stroke="#3a3e49" stroke-width="0.12" text-anchor="start" textLength="23.7" lengthAdjust="spacingAndGlyphs">36.00</text>
<text x="1154.2" y="81.63" font-size="10" fill="#3a3e49" stroke="#3a3e49" stroke-width="0.12" text-anchor="start" textLength="23.7" lengthAdjust="spacingAndGlyphs">38.00</text>
<text x="1154.2" y="54.2" font-size="10" fill="#3a3e49" stroke="#3a3e49" stroke-width="0.12" text-anchor="start" textLength="23.7" lengthAdjust="spacingAndGlyphs">40.00</text>
<text x="90.3" y="481" font-size="10" fill="#3a3e49" stroke="#3a3e49" stroke-width="0.12" text-anchor="middle">2</text>
<text x="209.34" y="481" font-size="10" fill="#3a3e49" stroke="#3a3e49" stroke-width="0.12" text-anchor="middle">3</text>
<text x="328.38" y="481" font-size="10" fill="#3a3e49" stroke="#3a3e49" stroke-width="0.12" text-anchor="middle">4</text>
<text x="447.42" y="481" font-size="10" fill="#3a3e49" stroke="#3a3e49" stroke-width="0.12" text-anchor="middle">5</text>
<text x="566.46" y="481" font-size="10" fill="#3a3e49" stroke="#3a3e49" stroke-width="0.12" text-anchor="middle">6</text>
<text x="685.5" y="481" font-size="10" fill="#3a3e49" stroke="#3a3e49" stroke-width="0.12" text-anchor="middle" font-weight="bold">7</text>
<text x="804.54" y="481" font-size="10" fill="#3a3e49" stroke="#3a3e49" stroke-width="0.12" text-anchor="middle">8</text>
<text x="923.58" y="481" font-size="10" fill="#3a3e49" stroke="#3a3e49" stroke-width="0.12" text-anchor="middle">9</text>
<text x="1042.62" y="481" font-size="10" fill="#3a3e49" stroke="#3a3e49" stroke-width="0.12" text-anchor="middle">10</text>
</g>
<path d="M1097.1 398.9H1144.1V412.9H1097.1a2 2 0 0 1-2-2V400.9a2 2 0 0 1 2-2z" fill="#089981"/>
<path d="M1145.1 398.9H1181.5a2 2 0 0 1 2 2V422.6a2 2 0 0 1-2 2H1145.1z" fill="#089981"/>
<g opacity="0.999">
<text x="1099.7" y="409.7" font-size="10" fill="#fff" stroke="#fff" stroke-width="0.25" text-anchor="start" textLength="38.2" lengthAdjust="spacingAndGlyphs">SOLUSDT</text>
<text x="1154.7" y="410.1" font-size="10" fill="#fff" stroke="#fff" stroke-width="0.25" text-anchor="start" textLength="23.2" lengthAdjust="spacingAndGlyphs">14.13</text>
<text x="1154.7" y="422.1" font-size="10" fill="#fff" stroke="#fff" stroke-width="0.25" text-anchor="start" textLength="23.2" lengthAdjust="spacingAndGlyphs" opacity="0.85">10:50</text>
</g>
<g transform="translate(8.7,497.38) scale(0.454)" fill="#131722"><path d="M14 22H7V11H0V4h14v18zM28 22h-8l7.5-18h8L28 22z"/><circle cx="20" cy="8" r="4"/></g>
<text x="27.8" y="507.3" font-size="9.3" fill="#4a4e59" stroke="#4a4e59" stroke-width="0.12" text-anchor="start" textLength="57.8" lengthAdjust="spacingAndGlyphs" opacity="0.999">TradingView</text>
</svg></body></html>
